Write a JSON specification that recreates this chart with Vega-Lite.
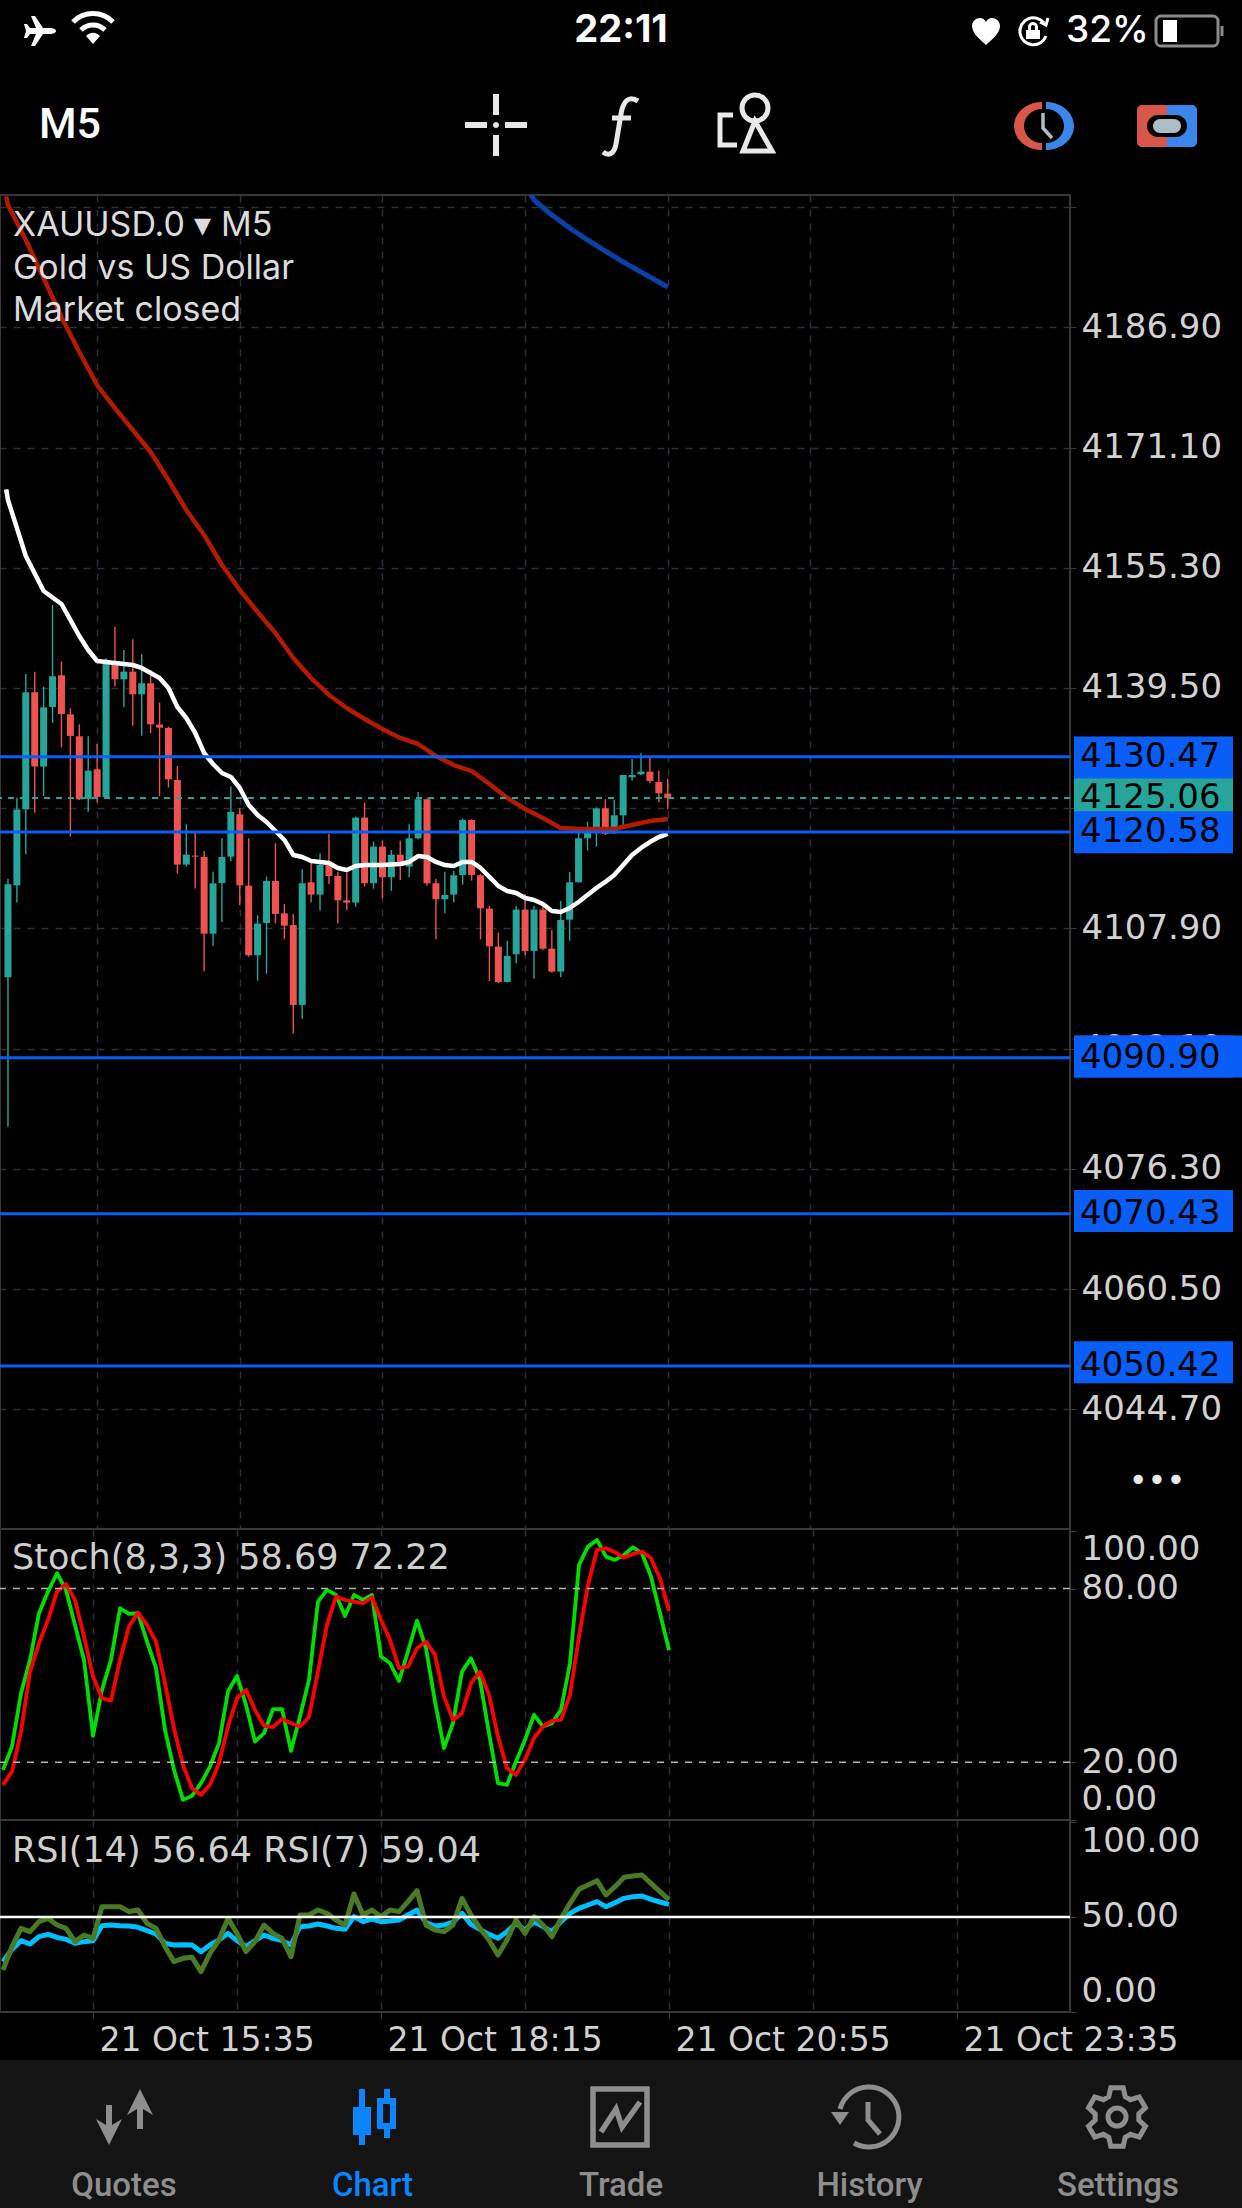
{
"$schema":"https://vega.github.io/schema/vega-lite/v6.json",
"background":"#000000","padding":{"left":-3,"right":0,"top":0,"bottom":0},"bounds":"flush","spacing":0,
"config":{"view":{"stroke":null},"line":{"strokeJoin":"round"},"axis":{"title":null,"domain":false,"labelFont":"DejaVu Sans","labelColor":"#d2d2d2","labelFlush":false,"labelBound":false,"labelOverlap":false,"labelLimit":500,"tickColor":"#3a3a3a","gridColor":"#2c2f3d","gridDash":[7,7],"gridWidth":1.5}},
"datasets":{
"candles":[
{"t":"2025-10-21T14:45","o":4101.48,"h":4114.41,"l":4081.86,"c":4113.71},
{"t":"2025-10-21T14:50","o":4113.57,"h":4125.09,"l":4111.30,"c":4123.52},
{"t":"2025-10-21T14:55","o":4123.56,"h":4141.34,"l":4117.65,"c":4138.93},
{"t":"2025-10-21T15:00","o":4138.93,"h":4141.65,"l":4123.12,"c":4129.17},
{"t":"2025-10-21T15:05","o":4129.17,"h":4139.68,"l":4125.31,"c":4136.96},
{"t":"2025-10-21T15:10","o":4137.01,"h":4150.41,"l":4134.91,"c":4141.04},
{"t":"2025-10-21T15:15","o":4141.17,"h":4143.01,"l":4131.71,"c":4136.09},
{"t":"2025-10-21T15:20","o":4136.04,"h":4136.83,"l":4119.97,"c":4133.20},
{"t":"2025-10-21T15:25","o":4133.15,"h":4134.73,"l":4124.79,"c":4124.87},
{"t":"2025-10-21T15:30","o":4124.92,"h":4133.15,"l":4123.25,"c":4128.64},
{"t":"2025-10-21T15:35","o":4128.82,"h":4132.15,"l":4124.44,"c":4125.18},
{"t":"2025-10-21T15:40","o":4125.18,"h":4143.40,"l":4125.09,"c":4142.75},
{"t":"2025-10-21T15:45","o":4142.75,"h":4147.56,"l":4139.68,"c":4140.64},
{"t":"2025-10-21T15:50","o":4140.64,"h":4144.50,"l":4136.96,"c":4141.65},
{"t":"2025-10-21T15:55","o":4141.65,"h":4145.90,"l":4134.55,"c":4138.67},
{"t":"2025-10-21T16:00","o":4138.67,"h":4143.93,"l":4133.24,"c":4140.12},
{"t":"2025-10-21T16:05","o":4140.12,"h":4141.87,"l":4133.55,"c":4134.73},
{"t":"2025-10-21T16:10","o":4134.69,"h":4137.58,"l":4125.31,"c":4134.29},
{"t":"2025-10-21T16:15","o":4134.25,"h":4134.42,"l":4126.41,"c":4127.50},
{"t":"2025-10-21T16:20","o":4127.41,"h":4129.25,"l":4115.11,"c":4116.29},
{"t":"2025-10-21T16:25","o":4116.29,"h":4121.59,"l":4116.03,"c":4117.60},
{"t":"2025-10-21T16:30","o":4117.47,"h":4120.54,"l":4113.14,"c":4117.34},
{"t":"2025-10-21T16:35","o":4117.30,"h":4118.09,"l":4102.27,"c":4107.22},
{"t":"2025-10-21T16:40","o":4107.22,"h":4115.37,"l":4105.60,"c":4113.84},
{"t":"2025-10-21T16:45","o":4113.88,"h":4119.75,"l":4108.76,"c":4117.30},
{"t":"2025-10-21T16:50","o":4117.34,"h":4126.54,"l":4116.77,"c":4123.21},
{"t":"2025-10-21T16:55","o":4122.90,"h":4123.69,"l":4110.95,"c":4113.57},
{"t":"2025-10-21T17:00","o":4113.53,"h":4119.75,"l":4104.20,"c":4104.38},
{"t":"2025-10-21T17:05","o":4104.38,"h":4109.63,"l":4101.05,"c":4108.54},
{"t":"2025-10-21T17:10","o":4108.62,"h":4114.71,"l":4101.97,"c":4114.14},
{"t":"2025-10-21T17:15","o":4114.14,"h":4119.09,"l":4108.58,"c":4109.81},
{"t":"2025-10-21T17:20","o":4109.89,"h":4111.12,"l":4106.48,"c":4108.27},
{"t":"2025-10-21T17:25","o":4108.36,"h":4109.81,"l":4094.13,"c":4097.85},
{"t":"2025-10-21T17:30","o":4097.85,"h":4115.68,"l":4096.05,"c":4113.84},
{"t":"2025-10-21T17:35","o":4113.97,"h":4116.68,"l":4111.30,"c":4112.35},
{"t":"2025-10-21T17:40","o":4112.35,"h":4117.78,"l":4110.24,"c":4116.25},
{"t":"2025-10-21T17:45","o":4116.25,"h":4120.32,"l":4113.75,"c":4114.80},
{"t":"2025-10-21T17:50","o":4114.80,"h":4115.37,"l":4108.58,"c":4111.60},
{"t":"2025-10-21T17:55","o":4111.60,"h":4115.24,"l":4110.33,"c":4111.30},
{"t":"2025-10-21T18:00","o":4111.30,"h":4122.60,"l":4110.77,"c":4122.47},
{"t":"2025-10-21T18:05","o":4122.47,"h":4124.44,"l":4113.40,"c":4113.84},
{"t":"2025-10-21T18:10","o":4113.84,"h":4119.31,"l":4113.14,"c":4118.66},
{"t":"2025-10-21T18:15","o":4118.66,"h":4119.44,"l":4111.87,"c":4114.63},
{"t":"2025-10-21T18:20","o":4114.63,"h":4118.22,"l":4112.83,"c":4117.60},
{"t":"2025-10-21T18:25","o":4117.60,"h":4119.44,"l":4114.28,"c":4116.16},
{"t":"2025-10-21T18:30","o":4116.03,"h":4121.59,"l":4114.63,"c":4119.75},
{"t":"2025-10-21T18:35","o":4119.75,"h":4125.84,"l":4119.62,"c":4124.88},
{"t":"2025-10-21T18:40","o":4124.88,"h":4125.01,"l":4113.53,"c":4113.84},
{"t":"2025-10-21T18:45","o":4113.84,"h":4114.45,"l":4106.48,"c":4111.74},
{"t":"2025-10-21T18:50","o":4111.74,"h":4115.37,"l":4109.90,"c":4112.30},
{"t":"2025-10-21T18:55","o":4112.35,"h":4115.50,"l":4111.30,"c":4114.89},
{"t":"2025-10-21T19:00","o":4114.93,"h":4122.34,"l":4113.66,"c":4122.16},
{"t":"2025-10-21T19:05","o":4122.16,"h":4122.25,"l":4114.19,"c":4114.93},
{"t":"2025-10-21T19:10","o":4114.89,"h":4115.06,"l":4106.48,"c":4110.55},
{"t":"2025-10-21T19:15","o":4110.51,"h":4110.86,"l":4101.00,"c":4105.56},
{"t":"2025-10-21T19:20","o":4105.52,"h":4107.36,"l":4100.70,"c":4100.87},
{"t":"2025-10-21T19:25","o":4100.87,"h":4106.30,"l":4100.83,"c":4104.29},
{"t":"2025-10-21T19:30","o":4104.51,"h":4110.86,"l":4103.33,"c":4110.38},
{"t":"2025-10-21T19:35","o":4110.38,"h":4112.44,"l":4104.38,"c":4104.95},
{"t":"2025-10-21T19:40","o":4104.95,"h":4110.86,"l":4101.31,"c":4110.38},
{"t":"2025-10-21T19:45","o":4110.38,"h":4110.77,"l":4105.08,"c":4105.25},
{"t":"2025-10-21T19:50","o":4105.25,"h":4107.71,"l":4102.10,"c":4102.23},
{"t":"2025-10-21T19:55","o":4102.23,"h":4111.52,"l":4101.49,"c":4109.02},
{"t":"2025-10-21T20:00","o":4109.06,"h":4115.33,"l":4106.30,"c":4113.97},
{"t":"2025-10-21T20:05","o":4113.97,"h":4120.50,"l":4113.93,"c":4119.75},
{"t":"2025-10-21T20:10","o":4119.75,"h":4121.94,"l":4118.13,"c":4120.63},
{"t":"2025-10-21T20:15","o":4120.63,"h":4123.82,"l":4118.66,"c":4123.69},
{"t":"2025-10-21T20:20","o":4123.69,"h":4124.88,"l":4120.19,"c":4120.32},
{"t":"2025-10-21T20:25","o":4120.41,"h":4124.79,"l":4120.32,"c":4122.77},
{"t":"2025-10-21T20:30","o":4122.77,"h":4128.07,"l":4121.50,"c":4128.07},
{"t":"2025-10-21T20:35","o":4127.77,"h":4130.18,"l":4127.33,"c":4128.07},
{"t":"2025-10-21T20:40","o":4128.16,"h":4130.92,"l":4128.07,"c":4128.51},
{"t":"2025-10-21T20:45","o":4128.51,"h":4130.31,"l":4126.98,"c":4127.28},
{"t":"2025-10-21T20:50","o":4127.15,"h":4128.64,"l":4124.44,"c":4125.66},
{"t":"2025-10-21T20:55","o":4125.62,"h":4127.59,"l":4123.56,"c":4125.05}
],
"maWhite":[
{"t":"2025-10-21T14:44","v":4165.60},{"t":"2025-10-21T14:45","v":4164.20},{"t":"2025-10-21T14:55","v":4156.85},{"t":"2025-10-21T15:05","v":4152.25},{"t":"2025-10-21T15:15","v":4150.54},{"t":"2025-10-21T15:20","v":4148.44},{"t":"2025-10-21T15:25","v":4146.33},{"t":"2025-10-21T15:30","v":4144.49},{"t":"2025-10-21T15:35","v":4143.05},{"t":"2025-10-21T15:45","v":4142.79},{"t":"2025-10-21T15:55","v":4142.52},{"t":"2025-10-21T16:00","v":4142.13},{"t":"2025-10-21T16:05","v":4141.47},{"t":"2025-10-21T16:10","v":4140.81},{"t":"2025-10-21T16:15","v":4139.50},{"t":"2025-10-21T16:20","v":4137.00},{"t":"2025-10-21T16:25","v":4135.56},{"t":"2025-10-21T16:30","v":4133.59},{"t":"2025-10-21T16:35","v":4130.96},{"t":"2025-10-21T16:40","v":4129.51},{"t":"2025-10-21T16:45","v":4128.33},{"t":"2025-10-21T16:50","v":4127.81},{"t":"2025-10-21T16:55","v":4126.36},{"t":"2025-10-21T17:00","v":4124.13},{"t":"2025-10-21T17:05","v":4122.81},{"t":"2025-10-21T17:10","v":4121.89},{"t":"2025-10-21T17:15","v":4120.71},{"t":"2025-10-21T17:20","v":4119.53},{"t":"2025-10-21T17:25","v":4117.56},{"t":"2025-10-21T17:30","v":4117.29},{"t":"2025-10-21T17:35","v":4116.77},{"t":"2025-10-21T17:40","v":4116.64},{"t":"2025-10-21T17:45","v":4116.50},{"t":"2025-10-21T17:50","v":4115.85},{"t":"2025-10-21T17:55","v":4115.59},{"t":"2025-10-21T18:00","v":4116.11},{"t":"2025-10-21T18:05","v":4116.24},{"t":"2025-10-21T18:15","v":4116.24},{"t":"2025-10-21T18:25","v":4116.37},{"t":"2025-10-21T18:30","v":4116.64},{"t":"2025-10-21T18:35","v":4117.42},{"t":"2025-10-21T18:40","v":4117.29},{"t":"2025-10-21T18:45","v":4116.64},{"t":"2025-10-21T18:50","v":4116.24},{"t":"2025-10-21T18:55","v":4116.11},{"t":"2025-10-21T19:00","v":4116.64},{"t":"2025-10-21T19:05","v":4116.64},{"t":"2025-10-21T19:10","v":4115.85},{"t":"2025-10-21T19:15","v":4114.67},{"t":"2025-10-21T19:20","v":4113.48},{"t":"2025-10-21T19:25","v":4112.83},{"t":"2025-10-21T19:30","v":4112.56},{"t":"2025-10-21T19:35","v":4111.91},{"t":"2025-10-21T19:40","v":4111.64},{"t":"2025-10-21T19:45","v":4111.12},{"t":"2025-10-21T19:50","v":4110.20},{"t":"2025-10-21T19:55","v":4110.07},{"t":"2025-10-21T20:00","v":4110.59},{"t":"2025-10-21T20:05","v":4111.38},{"t":"2025-10-21T20:10","v":4112.30},{"t":"2025-10-21T20:15","v":4113.22},{"t":"2025-10-21T20:20","v":4114.01},{"t":"2025-10-21T20:25","v":4114.93},{"t":"2025-10-21T20:30","v":4116.24},{"t":"2025-10-21T20:35","v":4117.56},{"t":"2025-10-21T20:40","v":4118.48},{"t":"2025-10-21T20:45","v":4119.26},{"t":"2025-10-21T20:50","v":4119.92},{"t":"2025-10-21T20:55","v":4120.32}
],
"maRed":[
{"t":"2025-10-21T14:44","v":4204.10},{"t":"2025-10-21T14:45","v":4202.97},{"t":"2025-10-21T14:55","v":4198.37},{"t":"2025-10-21T15:05","v":4193.37},{"t":"2025-10-21T15:15","v":4188.25},{"t":"2025-10-21T15:25","v":4183.65},{"t":"2025-10-21T15:35","v":4179.31},{"t":"2025-10-21T15:45","v":4176.29},{"t":"2025-10-21T15:55","v":4173.40},{"t":"2025-10-21T16:05","v":4170.51},{"t":"2025-10-21T16:15","v":4166.83},{"t":"2025-10-21T16:25","v":4162.89},{"t":"2025-10-21T16:35","v":4159.60},{"t":"2025-10-21T16:45","v":4155.66},{"t":"2025-10-21T16:55","v":4152.38},{"t":"2025-10-21T17:05","v":4149.49},{"t":"2025-10-21T17:15","v":4146.73},{"t":"2025-10-21T17:25","v":4143.44},{"t":"2025-10-21T17:35","v":4140.81},{"t":"2025-10-21T17:45","v":4138.58},{"t":"2025-10-21T17:55","v":4136.87},{"t":"2025-10-21T18:05","v":4135.43},{"t":"2025-10-21T18:15","v":4134.11},{"t":"2025-10-21T18:25","v":4132.93},{"t":"2025-10-21T18:35","v":4132.14},{"t":"2025-10-21T18:45","v":4130.56},{"t":"2025-10-21T18:55","v":4129.38},{"t":"2025-10-21T19:05","v":4128.59},{"t":"2025-10-21T19:15","v":4126.89},{"t":"2025-10-21T19:25","v":4125.05},{"t":"2025-10-21T19:35","v":4123.60},{"t":"2025-10-21T19:45","v":4122.42},{"t":"2025-10-21T19:55","v":4121.10},{"t":"2025-10-21T20:05","v":4120.97},{"t":"2025-10-21T20:15","v":4120.97},{"t":"2025-10-21T20:25","v":4120.97},{"t":"2025-10-21T20:35","v":4121.50},{"t":"2025-10-21T20:45","v":4122.02},{"t":"2025-10-21T20:55","v":4122.29}
],
"maBlue":[
{"t":"2025-10-21T19:30","v":4207.57},{"t":"2025-10-21T19:40","v":4203.62},{"t":"2025-10-21T19:50","v":4201.65},{"t":"2025-10-21T20:00","v":4199.94},{"t":"2025-10-21T20:10","v":4198.37},{"t":"2025-10-21T20:20","v":4196.92},{"t":"2025-10-21T20:30","v":4195.48},{"t":"2025-10-21T20:40","v":4194.16},{"t":"2025-10-21T20:50","v":4192.85},{"t":"2025-10-21T20:55","v":4192.19}
],
"levels":[{"price":4130.47},{"price":4120.58},{"price":4090.90},{"price":4070.43},{"price":4050.42}],
"bid":[{"price":4125.06}],
"ind":[
{"t":"2025-10-21T14:45","k":17.33,"d":12.15,"r14":26.48,"r7":22.09},
{"t":"2025-10-21T14:50","k":25.39,"d":16.75,"r14":32.97,"r7":34.37},
{"t":"2025-10-21T14:55","k":43.83,"d":30.58,"r14":37.52,"r7":44.01},
{"t":"2025-10-21T15:00","k":55.35,"d":51.31,"r14":35.77,"r7":42.26},
{"t":"2025-10-21T15:05","k":71.47,"d":61.11,"r14":39.63,"r7":47.52},
{"t":"2025-10-21T15:10","k":78.96,"d":69.17,"r14":40.86,"r7":49.27},
{"t":"2025-10-21T15:15","k":85.30,"d":78.96,"r14":39.28,"r7":45.77},
{"t":"2025-10-21T15:20","k":79.54,"d":81.61,"r14":38.23,"r7":44.01},
{"t":"2025-10-21T15:25","k":67.44,"d":76.08,"r14":36.12,"r7":37.00},
{"t":"2025-10-21T15:30","k":55.35,"d":63.41,"r14":37.00,"r7":40.51},
{"t":"2025-10-21T15:35","k":29.08,"d":49.59,"r14":37.52,"r7":38.75},
{"t":"2025-10-21T15:40","k":44.98,"d":42.10,"r14":45.42,"r7":55.41},
{"t":"2025-10-21T15:45","k":55.35,"d":41.29,"r14":45.77,"r7":55.41},
{"t":"2025-10-21T15:50","k":73.20,"d":55.35,"r14":45.42,"r7":55.41},
{"t":"2025-10-21T15:55","k":71.24,"d":66.87,"r14":45.24,"r7":52.78},
{"t":"2025-10-21T16:00","k":71.47,"d":71.70,"r14":44.54,"r7":53.66},
{"t":"2025-10-21T16:05","k":61.68,"d":67.44,"r14":42.79,"r7":46.64},
{"t":"2025-10-21T16:10","k":52.47,"d":61.68,"r14":41.03,"r7":44.01},
{"t":"2025-10-21T16:15","k":31.15,"d":47.28,"r14":36.12,"r7":34.37},
{"t":"2025-10-21T16:20","k":17.33,"d":31.73,"r14":35.25,"r7":26.48},
{"t":"2025-10-21T16:25","k":6.96,"d":19.06,"r14":35.42,"r7":28.23},
{"t":"2025-10-21T16:30","k":8.34,"d":10.99,"r14":35.25,"r7":28.76},
{"t":"2025-10-21T16:35","k":12.72,"d":8.69,"r14":31.74,"r7":21.22},
{"t":"2025-10-21T16:40","k":18.48,"d":12.15,"r14":35.25,"r7":30.86},
{"t":"2025-10-21T16:45","k":26.55,"d":19.63,"r14":37.88,"r7":37.88},
{"t":"2025-10-21T16:50","k":44.40,"d":32.31,"r14":41.38,"r7":49.27},
{"t":"2025-10-21T16:55","k":49.82,"d":42.10,"r14":37.52,"r7":41.38},
{"t":"2025-10-21T17:00","k":39.79,"d":44.98,"r14":34.37,"r7":31.74},
{"t":"2025-10-21T17:05","k":27.12,"d":38.07,"r14":37.52,"r7":37.00},
{"t":"2025-10-21T17:10","k":30.00,"d":32.54,"r14":40.51,"r7":45.77},
{"t":"2025-10-21T17:15","k":38.30,"d":32.08,"r14":38.75,"r7":41.38},
{"t":"2025-10-21T17:20","k":38.30,"d":34.96,"r14":37.52,"r7":38.75},
{"t":"2025-10-21T17:25","k":23.90,"d":33.46,"r14":35.25,"r7":29.11},
{"t":"2025-10-21T17:30","k":35.76,"d":32.31,"r14":44.89,"r7":51.03},
{"t":"2025-10-21T17:35","k":48.43,"d":35.53,"r14":45.24,"r7":51.03},
{"t":"2025-10-21T17:40","k":75.51,"d":51.31,"r14":46.29,"r7":53.66},
{"t":"2025-10-21T17:45","k":79.54,"d":67.44,"r14":45.24,"r7":51.90},
{"t":"2025-10-21T17:50","k":77.81,"d":77.23,"r14":44.01,"r7":48.40},
{"t":"2025-10-21T17:55","k":70.55,"d":76.08,"r14":43.49,"r7":45.77},
{"t":"2025-10-21T18:00","k":77.81,"d":75.51,"r14":50.15,"r7":62.07},
{"t":"2025-10-21T18:05","k":76.08,"d":74.93,"r14":47.52,"r7":51.03},
{"t":"2025-10-21T18:10","k":77.81,"d":77.00,"r14":48.92,"r7":53.66},
{"t":"2025-10-21T18:15","k":56.50,"d":69.17,"r14":47.52,"r7":50.15},
{"t":"2025-10-21T18:20","k":54.19,"d":62.26,"r14":47.87,"r7":53.66},
{"t":"2025-10-21T18:25","k":48.09,"d":52.47,"r14":48.40,"r7":52.78},
{"t":"2025-10-21T18:30","k":58.23,"d":53.04,"r14":51.03,"r7":58.04},
{"t":"2025-10-21T18:35","k":68.94,"d":59.38,"r14":53.66,"r7":63.83},
{"t":"2025-10-21T18:40","k":59.38,"d":61.68,"r14":46.99,"r7":45.77},
{"t":"2025-10-21T18:45","k":40.95,"d":57.07,"r14":45.24,"r7":43.14},
{"t":"2025-10-21T18:50","k":24.82,"d":42.67,"r14":45.77,"r7":42.26},
{"t":"2025-10-21T18:55","k":33.46,"d":34.61,"r14":47.17,"r7":45.77},
{"t":"2025-10-21T19:00","k":51.31,"d":36.91,"r14":51.90,"r7":59.79},
{"t":"2025-10-21T19:05","k":55.92,"d":47.28,"r14":46.12,"r7":51.03},
{"t":"2025-10-21T19:10","k":48.43,"d":51.31,"r14":43.49,"r7":44.01},
{"t":"2025-10-21T19:15","k":30.00,"d":43.25,"r14":40.86,"r7":37.88},
{"t":"2025-10-21T19:20","k":12.72,"d":28.85,"r14":38.75,"r7":29.98},
{"t":"2025-10-21T19:25","k":12.15,"d":17.91,"r14":42.26,"r7":37.88},
{"t":"2025-10-21T19:30","k":20.21,"d":15.60,"r14":46.64,"r7":48.40},
{"t":"2025-10-21T19:35","k":27.70,"d":20.79,"r14":43.14,"r7":41.38},
{"t":"2025-10-21T19:40","k":36.34,"d":28.27,"r14":47.52,"r7":50.15},
{"t":"2025-10-21T19:45","k":32.31,"d":32.31,"r14":44.89,"r7":45.77},
{"t":"2025-10-21T19:50","k":33.46,"d":34.26,"r14":42.26,"r7":39.63},
{"t":"2025-10-21T19:55","k":38.07,"d":34.61,"r14":47.52,"r7":49.27},
{"t":"2025-10-21T20:00","k":54.19,"d":43.25,"r14":51.90,"r7":57.16},
{"t":"2025-10-21T20:05","k":88.18,"d":63.41,"r14":54.53,"r7":64.53},
{"t":"2025-10-21T20:10","k":94.51,"d":81.27,"r14":56.29,"r7":66.81},
{"t":"2025-10-21T20:15","k":96.82,"d":93.36,"r14":58.04,"r7":69.09},
{"t":"2025-10-21T20:20","k":91.06,"d":93.94,"r14":55.41,"r7":61.55},
{"t":"2025-10-21T20:25","k":89.91,"d":92.56,"r14":57.51,"r7":65.93},
{"t":"2025-10-21T20:30","k":91.63,"d":90.71,"r14":59.79,"r7":70.84},
{"t":"2025-10-21T20:35","k":94.28,"d":91.98,"r14":60.67,"r7":71.54},
{"t":"2025-10-21T20:40","k":92.21,"d":92.79,"r14":61.02,"r7":72.07},
{"t":"2025-10-21T20:45","k":84.15,"d":90.48,"r14":59.27,"r7":67.69},
{"t":"2025-10-21T20:50","k":71.47,"d":83.57,"r14":57.87,"r7":63.30},
{"t":"2025-10-21T20:55","k":58.69,"d":72.22,"r14":56.64,"r7":59.04}
]
},
"vconcat":[
{"width":1242,"height":195,"data":{"values":[{"item":"chrome"}]},
"resolve":{"scale":{"x":"independent","y":"independent"}},
"layer":[
{"mark":{"type":"point","shape":"M16 0 C16 -2 13 -3 10 -3 L3 -3 L-5 -15 L-9 -15 L-4 -3 L-10 -3 L-13 -7 L-16 -7 L-14 0 L-16 7 L-13 7 L-10 3 L-4 3 L-9 15 L-5 15 L3 3 L10 3 C13 3 16 2 16 0 Z","filled":true,"color":"#ffffff","size":4,"opacity":1},"encoding":{"x":{"datum":0,"scale":{"domain":[0,1],"range":[40,41]},"axis":null},"y":{"datum":0,"scale":{"domain":[0,1],"range":[31,32]},"axis":null}}},
{"mark":{"type":"point","shape":"M-20 -7 A28 28 0 0 1 20 -7 M-12 1 A17 17 0 0 1 12 1","filled":false,"color":"#ffffff","strokeWidth":5,"size":4,"opacity":1},"encoding":{"x":{"datum":0,"scale":{"domain":[0,1],"range":[93,94]},"axis":null},"y":{"datum":0,"scale":{"domain":[0,1],"range":[29,30]},"axis":null}}},
{"mark":{"type":"point","shape":"M-7 7 A9 9 0 0 1 7 7 L0 15 Z","filled":true,"color":"#ffffff","size":4,"opacity":1},"encoding":{"x":{"datum":0,"scale":{"domain":[0,1],"range":[93,94]},"axis":null},"y":{"datum":0,"scale":{"domain":[0,1],"range":[29,30]},"axis":null}}},
{"data":{"values":[{"label":"22:11"}]},"mark":{"type":"text","font":"Inter","fontWeight":700,"fontSize":38,"color":"#ffffff","align":"center","baseline":"middle"},"encoding":{"text":{"field":"label"},"x":{"datum":0,"scale":{"domain":[0,1],"range":[621,622]},"axis":null},"y":{"datum":0,"scale":{"domain":[0,1],"range":[31,32]},"axis":null}}},
{"mark":{"type":"point","shape":"M0 14 C-4 10 -14 3 -14 -5 C-14 -10 -10 -13 -6 -13 C-3 -13 -1 -11 0 -9 C1 -11 3 -13 6 -13 C10 -13 14 -10 14 -5 C14 3 4 10 0 14 Z","filled":true,"color":"#ffffff","size":4,"opacity":1},"encoding":{"x":{"datum":0,"scale":{"domain":[0,1],"range":[986,987]},"axis":null},"y":{"datum":0,"scale":{"domain":[0,1],"range":[31,32]},"axis":null}}},
{"mark":{"type":"point","shape":"M11 -8 A13.5 13.5 0 1 0 13 5 M7 -9 L13 -6 L15 -13","filled":false,"color":"#ffffff","strokeWidth":3,"size":4,"opacity":1},"encoding":{"x":{"datum":0,"scale":{"domain":[0,1],"range":[1033,1034]},"axis":null},"y":{"datum":0,"scale":{"domain":[0,1],"range":[31,32]},"axis":null}}},
{"mark":{"type":"point","shape":"M-5 -1 V-4 A5 5 0 0 1 5 -4 V-1 H7 V8 H-7 V-1 Z M-2 -1 H2 V-4 A2 2 0 0 0 -2 -4 Z","filled":true,"color":"#ffffff","size":4,"opacity":1},"encoding":{"x":{"datum":0,"scale":{"domain":[0,1],"range":[1033,1034]},"axis":null},"y":{"datum":0,"scale":{"domain":[0,1],"range":[31,32]},"axis":null}}},
{"data":{"values":[{"label":"32%"}]},"mark":{"type":"text","font":"Inter","fontWeight":500,"fontSize":37,"color":"#ffffff","align":"left","baseline":"middle"},"encoding":{"text":{"field":"label"},"x":{"datum":0,"scale":{"domain":[0,1],"range":[1066,1067]},"axis":null},"y":{"datum":0,"scale":{"domain":[0,1],"range":[31,32]},"axis":null}}},
{"mark":{"type":"point","shape":"M-26 -15 H26 A5 5 0 0 1 31 -10 V10 A5 5 0 0 1 26 15 H-26 A5 5 0 0 1 -31 10 V-10 A5 5 0 0 1 -26 -15 Z","filled":false,"color":"#8a8a8a","strokeWidth":3,"size":4,"opacity":1},"encoding":{"x":{"datum":0,"scale":{"domain":[0,1],"range":[1187,1188]},"axis":null},"y":{"datum":0,"scale":{"domain":[0,1],"range":[31,32]},"axis":null}}},
{"mark":{"type":"point","shape":"M-24 -11 H-10 V11 H-24 Z","filled":true,"color":"#ffffff","size":4,"opacity":1},"encoding":{"x":{"datum":0,"scale":{"domain":[0,1],"range":[1187,1188]},"axis":null},"y":{"datum":0,"scale":{"domain":[0,1],"range":[31,32]},"axis":null}}},
{"mark":{"type":"point","shape":"M35 -5 V5","filled":false,"color":"#8a8a8a","strokeWidth":3,"size":4,"opacity":1},"encoding":{"x":{"datum":0,"scale":{"domain":[0,1],"range":[1187,1188]},"axis":null},"y":{"datum":0,"scale":{"domain":[0,1],"range":[31,32]},"axis":null}}},
{"data":{"values":[{"label":"M5"}]},"mark":{"type":"text","font":"Roboto","fontWeight":500,"fontSize":43,"color":"#ffffff","align":"left","baseline":"middle"},"encoding":{"text":{"field":"label"},"x":{"datum":0,"scale":{"domain":[0,1],"range":[39,40]},"axis":null},"y":{"datum":0,"scale":{"domain":[0,1],"range":[125,126]},"axis":null}}},
{"mark":{"type":"point","shape":"M-31 -3 H-9 V3 H-31 Z M9 -3 H31 V3 H9 Z M-3 -31 H3 V-10 H-3 Z M-3 10 H3 V31 H-3 Z M-3 0 A3 3 0 1 0 3 0 A3 3 0 1 0 -3 0 Z","filled":true,"color":"#e8e8e8","size":4,"opacity":1},"encoding":{"x":{"datum":0,"scale":{"domain":[0,1],"range":[496,497]},"axis":null},"y":{"datum":0,"scale":{"domain":[0,1],"range":[125,126]},"axis":null}}},
{"mark":{"type":"point","shape":"M17 -25 C7 -31 2 -24 0 -12 L-5 18 C-7 29 -13 30 -18 26 M-9 -8 H10","filled":false,"color":"#e8e8e8","strokeWidth":5,"size":4,"opacity":1},"encoding":{"x":{"datum":0,"scale":{"domain":[0,1],"range":[621,622]},"axis":null},"y":{"datum":0,"scale":{"domain":[0,1],"range":[126,127]},"axis":null}}},
{"mark":{"type":"point","shape":"M-4 -17 A13 13 0 1 1 22 -17 A13 13 0 1 1 -4 -17 M9 -4 L-3 26 H26 Z M-13 -10 H-26 V20 H-9","filled":false,"color":"#e8e8e8","strokeWidth":5,"size":4,"opacity":1},"encoding":{"x":{"datum":0,"scale":{"domain":[0,1],"range":[746,747]},"axis":null},"y":{"datum":0,"scale":{"domain":[0,1],"range":[125,126]},"axis":null}}},
{"mark":{"type":"point","shape":"M-2 -24 A28 24 0 0 0 -2 24 L-2 17 A18 17 0 0 1 -2 -17 Z","filled":true,"color":"#d9574a","size":4,"opacity":1},"encoding":{"x":{"datum":0,"scale":{"domain":[0,1],"range":[1044,1045]},"axis":null},"y":{"datum":0,"scale":{"domain":[0,1],"range":[126,127]},"axis":null}}},
{"mark":{"type":"point","shape":"M2 -24 A28 24 0 0 1 2 24 L2 17 A18 17 0 0 0 2 -17 Z","filled":true,"color":"#3a86ea","size":4,"opacity":1},"encoding":{"x":{"datum":0,"scale":{"domain":[0,1],"range":[1044,1045]},"axis":null},"y":{"datum":0,"scale":{"domain":[0,1],"range":[126,127]},"axis":null}}},
{"mark":{"type":"point","shape":"M-1 -13 V2 L8 12","filled":false,"color":"#aebcc6","strokeWidth":3.5,"size":4,"opacity":1},"encoding":{"x":{"datum":0,"scale":{"domain":[0,1],"range":[1044,1045]},"axis":null},"y":{"datum":0,"scale":{"domain":[0,1],"range":[126,127]},"axis":null}}},
{"mark":{"type":"point","shape":"M-25 -21 H0 V21 H-25 A5 5 0 0 1 -30 16 V-16 A5 5 0 0 1 -25 -21 Z","filled":true,"color":"#d9574a","size":4,"opacity":1},"encoding":{"x":{"datum":0,"scale":{"domain":[0,1],"range":[1167,1168]},"axis":null},"y":{"datum":0,"scale":{"domain":[0,1],"range":[126,127]},"axis":null}}},
{"mark":{"type":"point","shape":"M0 -21 H25 A5 5 0 0 1 30 -16 V16 A5 5 0 0 1 25 21 H0 Z","filled":true,"color":"#3a86ea","size":4,"opacity":1},"encoding":{"x":{"datum":0,"scale":{"domain":[0,1],"range":[1167,1168]},"axis":null},"y":{"datum":0,"scale":{"domain":[0,1],"range":[126,127]},"axis":null}}},
{"mark":{"type":"point","shape":"M-9 -11 H9 A11 11 0 0 1 9 11 H-9 A11 11 0 0 1 -9 -11 Z","filled":true,"color":"#000000","size":4,"opacity":1},"encoding":{"x":{"datum":0,"scale":{"domain":[0,1],"range":[1167,1168]},"axis":null},"y":{"datum":0,"scale":{"domain":[0,1],"range":[126,127]},"axis":null}}},
{"mark":{"type":"point","shape":"M-7 -7 H7 A7 7 0 0 1 7 7 H-7 A7 7 0 0 1 -7 -7 Z","filled":true,"color":"#aebcc6","size":4,"opacity":1},"encoding":{"x":{"datum":0,"scale":{"domain":[0,1],"range":[1167,1168]},"axis":null},"y":{"datum":0,"scale":{"domain":[0,1],"range":[126,127]},"axis":null}}}
]},
{"width":1070,"height":1334,"view":{"stroke":"#383838","strokeWidth":2},
"resolve":{"scale":{"x":"independent","y":"independent"}},
"layer":[
{"layer":[
{"data":{"name":"candles"},"mark":{"type":"rule","strokeWidth":1.4,"clip":true},
"encoding":{"x":{"field":"t","type":"temporal","scale":{"domain":["2025-10-21T14:43:20","2025-10-22T00:37:47"]},"axis":{"grid":true,"labels":false,"ticks":false,"values":["2025-10-21T15:35","2025-10-21T16:55","2025-10-21T18:15","2025-10-21T19:35","2025-10-21T20:55","2025-10-21T22:15","2025-10-21T23:35"]}},
"y":{"field":"l","type":"quantitative","scale":{"domain":[4028.99,4204.28],"nice":false,"zero":false},"axis":{"orient":"right","grid":true,"values":[4202.7,4186.9,4171.1,4155.3,4139.5,4123.7,4107.9,4092.1,4076.3,4060.5,4044.7],"labelExpr":"datum.value>4200?'':format(datum.value,'.2f')","labelAlign":"left","labelFontSize":34,"tickSize":6,"labelPadding":5}},
"y2":{"field":"h"},
"color":{"condition":{"test":"datum.c>=datum.o","value":"#26a69a"},"value":"#ef5350"}}},
{"data":{"name":"candles"},"mark":{"type":"bar","size":7,"clip":true},
"encoding":{"x":{"field":"t","type":"temporal"},"y":{"field":"o","type":"quantitative"},"y2":{"field":"c"},
"color":{"condition":{"test":"datum.c>=datum.o","value":"#26a69a"},"value":"#ef5350"}}},
{"data":{"name":"maRed"},"mark":{"type":"line","color":"#b31a00","strokeWidth":4.5,"clip":true},"encoding":{"x":{"field":"t","type":"temporal"},"y":{"field":"v","type":"quantitative"}}},
{"data":{"name":"maWhite"},"mark":{"type":"line","color":"#ffffff","strokeWidth":4.5,"clip":true},"encoding":{"x":{"field":"t","type":"temporal"},"y":{"field":"v","type":"quantitative"}}},
{"data":{"name":"maBlue"},"mark":{"type":"line","color":"#0a40a8","strokeWidth":5,"clip":true},"encoding":{"x":{"field":"t","type":"temporal"},"y":{"field":"v","type":"quantitative"}}},
{"data":{"name":"bid"},"mark":{"type":"rule","color":"#26a69a","strokeWidth":2,"strokeDash":[6,6]},"encoding":{"y":{"field":"price","type":"quantitative"}}},
{"data":{"name":"levels"},"mark":{"type":"rule","color":"#0a5ef8","strokeWidth":3},"encoding":{"y":{"field":"price","type":"quantitative"}}}
]},
{"data":{"name":"bid"},"mark":{"type":"bar","size":42,"color":"#26a69a"},"encoding":{"x":{"datum":0,"scale":{"domain":[0,1],"range":[1074,1233]},"axis":null},"x2":{"datum":1},"y":{"field":"price","type":"quantitative","scale":{"domain":[4028.99,4204.28],"nice":false,"zero":false},"axis":null}}},
{"data":{"name":"bid"},"mark":{"type":"text","font":"DejaVu Sans","fontSize":34,"color":"#000000","align":"left","baseline":"middle"},"encoding":{"text":{"field":"price","format":".2f"},"x":{"datum":0,"scale":{"domain":[0,1],"range":[1080,1081]},"axis":null},"y":{"field":"price","type":"quantitative","scale":{"domain":[4028.99,4204.28],"nice":false,"zero":false},"axis":null}}},
{"data":{"name":"levels"},"mark":{"type":"bar","size":42,"color":"#0a5ef8"},"encoding":{"x":{"datum":0,"scale":{"domain":[0,1],"range":[1074,1233]},"axis":null},"x2":{"datum":1},"y":{"field":"price","type":"quantitative","scale":{"domain":[4028.99,4204.28],"nice":false,"zero":false},"axis":null}}},
{"data":{"values":[{"price":4090.90}]},"mark":{"type":"bar","size":42,"color":"#0a5ef8"},"encoding":{"x":{"datum":0,"scale":{"domain":[0,1],"range":[1074,1242]},"axis":null},"x2":{"datum":1},"y":{"field":"price","type":"quantitative","scale":{"domain":[4028.99,4204.28],"nice":false,"zero":false},"axis":null}}},
{"data":{"name":"levels"},"mark":{"type":"text","font":"DejaVu Sans","fontSize":34,"color":"#000000","align":"left","baseline":"middle"},"encoding":{"text":{"field":"price","format":".2f"},"x":{"datum":0,"scale":{"domain":[0,1],"range":[1080,1081]},"axis":null},"y":{"field":"price","type":"quantitative","scale":{"domain":[4028.99,4204.28],"nice":false,"zero":false},"axis":null}}},
{"data":{"values":[{"line":"XAUUSD.0 ▾ M5"},{"line":"Gold vs US Dollar"},{"line":"Market closed"}]},"mark":{"type":"text","font":"Inter","fontSize":34,"color":"#dcdcdc","align":"left","baseline":"middle"},"encoding":{"text":{"field":"line"},"x":{"datum":0,"scale":{"domain":[0,1],"range":[13,14]},"axis":null},"y":{"field":"line","type":"nominal","scale":{"domain":["XAUUSD.0 ▾ M5","Gold vs US Dollar","Market closed"],"range":[31,116],"padding":0},"axis":null}}},
{"data":{"values":[{"more":"•••"}]},"mark":{"type":"text","font":"DejaVu Sans","fontSize":32,"color":"#e8e8e8","align":"center","baseline":"middle"},"encoding":{"text":{"field":"more"},"x":{"datum":0,"scale":{"domain":[0,1],"range":[1157,1158]},"axis":null},"y":{"datum":0,"scale":{"domain":[0,1],"range":[1286,1287]},"axis":null}}}
]},
{"width":1070,"height":291,"view":{"stroke":"#383838","strokeWidth":2},
"resolve":{"scale":{"x":"independent","y":"independent"}},
"layer":[
{"layer":[
{"data":{"name":"ind"},"mark":{"type":"line","color":"#00e000","strokeWidth":3.8},"encoding":{"x":{"field":"t","type":"temporal","scale":{"domain":["2025-10-21T14:43:20","2025-10-22T00:37:47"]},"axis":{"grid":true,"labels":false,"ticks":false,"values":["2025-10-21T15:35","2025-10-21T16:55","2025-10-21T18:15","2025-10-21T19:35","2025-10-21T20:55","2025-10-21T22:15","2025-10-21T23:35"]}},
"y":{"field":"k","type":"quantitative","scale":{"domain":[0,100.6],"nice":false},"axis":{"orient":"right","grid":false,"values":[100,80,20,0],"format":".2f","labelAlign":"left","labelFontSize":34,"tickSize":6,"labelPadding":5,"labelOffset":{"condition":[{"test":"datum.value==100","value":19},{"test":"datum.value==0","value":-21}],"value":0}}}}},
{"data":{"name":"ind"},"mark":{"type":"line","color":"#ff0000","strokeWidth":3.8},"encoding":{"x":{"field":"t","type":"temporal"},"y":{"field":"d","type":"quantitative"}}},
{"data":{"values":[{"level":80},{"level":20}]},"mark":{"type":"rule","color":"#b4b4b4","strokeWidth":1.5,"strokeDash":[7,7]},"encoding":{"y":{"field":"level","type":"quantitative"}}}
]},
{"data":{"values":[{"label":"Stoch(8,3,3) 58.69 72.22"}]},"mark":{"type":"text","font":"DejaVu Sans","fontSize":35,"color":"#cfcfcf","align":"left","baseline":"middle"},"encoding":{"text":{"field":"label"},"x":{"datum":0,"scale":{"domain":[0,1],"range":[12,13]},"axis":null},"y":{"datum":0,"scale":{"domain":[0,1],"range":[29,30]},"axis":null}}}
]},
{"width":1070,"height":192,"view":{"stroke":"#383838","strokeWidth":2},
"resolve":{"scale":{"x":"independent","y":"independent"}},
"layer":[
{"layer":[
{"data":{"name":"ind"},"mark":{"type":"line","color":"#00bfff","strokeWidth":5},"encoding":{"x":{"field":"t","type":"temporal","scale":{"domain":["2025-10-21T14:43:20","2025-10-22T00:37:47"]},"axis":{"grid":true,"ticks":true,"tickSize":6,"labelAlign":"left","labelBaseline":"top","labelPadding":6,"labelFontSize":33,"labelOffset":6,"tickOpacity":{"condition":{"test":"indexof(['16:55','19:35','22:15'],timeFormat(datum.value,'%H:%M'))>=0","value":0},"value":1},"values":["2025-10-21T15:35","2025-10-21T16:55","2025-10-21T18:15","2025-10-21T19:35","2025-10-21T20:55","2025-10-21T22:15","2025-10-21T23:35"],"labelExpr":"indexof(['16:55','19:35','22:15'],timeFormat(datum.value,'%H:%M'))>=0?'':timeFormat(datum.value,'%d %b %H:%M')"}},
"y":{"field":"r14","type":"quantitative","scale":{"domain":[0,101],"nice":false},"axis":{"orient":"right","grid":false,"values":[100,50,0],"format":".2f","labelAlign":"left","labelFontSize":34,"tickSize":6,"labelPadding":5,"labelOffset":{"condition":[{"test":"datum.value==100","value":20},{"test":"datum.value==0","value":-21}],"value":0}}}}},
{"data":{"name":"ind"},"mark":{"type":"line","color":"#4b7a24","strokeWidth":5},"encoding":{"x":{"field":"t","type":"temporal"},"y":{"field":"r7","type":"quantitative"}}},
{"data":{"values":[{"level":50}]},"mark":{"type":"rule","color":"#ffffff","strokeWidth":2.5},"encoding":{"y":{"field":"level","type":"quantitative"}}}
]},
{"data":{"values":[{"label":"RSI(14) 56.64 RSI(7) 59.04"}]},"mark":{"type":"text","font":"DejaVu Sans","fontSize":35,"color":"#cfcfcf","align":"left","baseline":"middle"},"encoding":{"text":{"field":"label"},"x":{"datum":0,"scale":{"domain":[0,1],"range":[12,13]},"axis":null},"y":{"datum":0,"scale":{"domain":[0,1],"range":[31,32]},"axis":null}}}
]},
{"width":1242,"height":196,"data":{"values":[{"item":"chrome"}]},
"resolve":{"scale":{"x":"independent","y":"independent"}},
"layer":[
{"mark":{"type":"rect","color":"#141414"},"encoding":{"x":{"datum":0,"scale":{"domain":[0,1],"range":[0,1242]},"axis":null},"x2":{"datum":1},"y":{"datum":0,"scale":{"domain":[0,1],"range":[48,196]},"axis":null},"y2":{"datum":1}}},
{"data":{"values":[{"tab":"Quotes"},{"tab":"Chart"},{"tab":"Trade"},{"tab":"History"},{"tab":"Settings"}]},"mark":{"type":"text","font":"Roboto","fontWeight":500,"fontSize":33,"align":"center","baseline":"middle"},"encoding":{"text":{"field":"tab"},"x":{"field":"tab","type":"nominal","scale":{"domain":["Quotes","Chart","Trade","History","Settings"],"range":[124,1118],"padding":0},"axis":null},"y":{"datum":0,"scale":{"domain":[0,1],"range":[174,175]},"axis":null},"color":{"condition":{"test":"datum.tab=='Chart'","value":"#0a84ff"},"value":"#8e8e8e"}}},
{"mark":{"type":"point","shape":"M15 -28 L28 -2 L18 -8 V12 H12 V-8 L2 -2 Z M-16 28 L-29 2 L-19 8 V-12 H-13 V8 L-3 2 Z","filled":true,"color":"#8e8e8e","size":4,"opacity":1},"encoding":{"x":{"datum":0,"scale":{"domain":[0,1],"range":[125,126]},"axis":null},"y":{"datum":0,"scale":{"domain":[0,1],"range":[105,106]},"axis":null}}},
{"mark":{"type":"point","shape":"M-14 -28 H-8 V-10 H-2 V18 H-8 V28 H-14 V18 H-20 V-10 H-14 Z M11 -28 H17 V-19 H23 V12 H17 V21 H11 V12 H4 V-19 H11 Z M10 -13 V6 H17 V-13 Z","filled":true,"color":"#0a84ff","size":4,"opacity":1},"encoding":{"x":{"datum":0,"scale":{"domain":[0,1],"range":[373,374]},"axis":null},"y":{"datum":0,"scale":{"domain":[0,1],"range":[105,106]},"axis":null}}},
{"mark":{"type":"point","shape":"M-27 -28 H27 V28 H-27 Z M-19 15 L-4 -8 L2 10 L20 -15","filled":false,"color":"#8e8e8e","strokeWidth":5.5,"size":4,"opacity":1},"encoding":{"x":{"datum":0,"scale":{"domain":[0,1],"range":[620,621]},"axis":null},"y":{"datum":0,"scale":{"domain":[0,1],"range":[105,106]},"axis":null}}},
{"mark":{"type":"point","shape":"M-28 -8 A30 30 0 1 1 -14 26 M0 -15 V3 L12 17","filled":false,"color":"#8e8e8e","strokeWidth":5,"size":4,"opacity":1},"encoding":{"x":{"datum":0,"scale":{"domain":[0,1],"range":[868,869]},"axis":null},"y":{"datum":0,"scale":{"domain":[0,1],"range":[105,106]},"axis":null}}},
{"mark":{"type":"point","shape":"M-37 -5 H-19 L-28 8 Z","filled":true,"color":"#8e8e8e","size":4,"opacity":1},"encoding":{"x":{"datum":0,"scale":{"domain":[0,1],"range":[868,869]},"axis":null},"y":{"datum":0,"scale":{"domain":[0,1],"range":[105,106]},"axis":null}}},
{"mark":{"type":"point","shape":"M-8.2 -20.4 L-6.2 -29.3 L6.2 -29.3 L8.2 -20.4 L13.5 -17.3 L22.3 -20.1 L28.5 -9.3 L21.8 -3.1 L21.8 3.1 L28.5 9.3 L22.3 20.1 L13.5 17.3 L8.2 20.4 L6.2 29.3 L-6.2 29.3 L-8.2 20.4 L-13.5 17.3 L-22.3 20.1 L-28.5 9.3 L-21.8 3.1 L-21.8 -3.1 L-28.5 -9.3 L-22.3 -20.1 L-13.5 -17.3 Z M-9 0 A9 9 0 1 0 9 0 A9 9 0 1 0 -9 0 Z","filled":false,"color":"#8e8e8e","strokeWidth":5,"size":4,"opacity":1},"encoding":{"x":{"datum":0,"scale":{"domain":[0,1],"range":[1117,1118]},"axis":null},"y":{"datum":0,"scale":{"domain":[0,1],"range":[105,106]},"axis":null}}}
]}
]
}
